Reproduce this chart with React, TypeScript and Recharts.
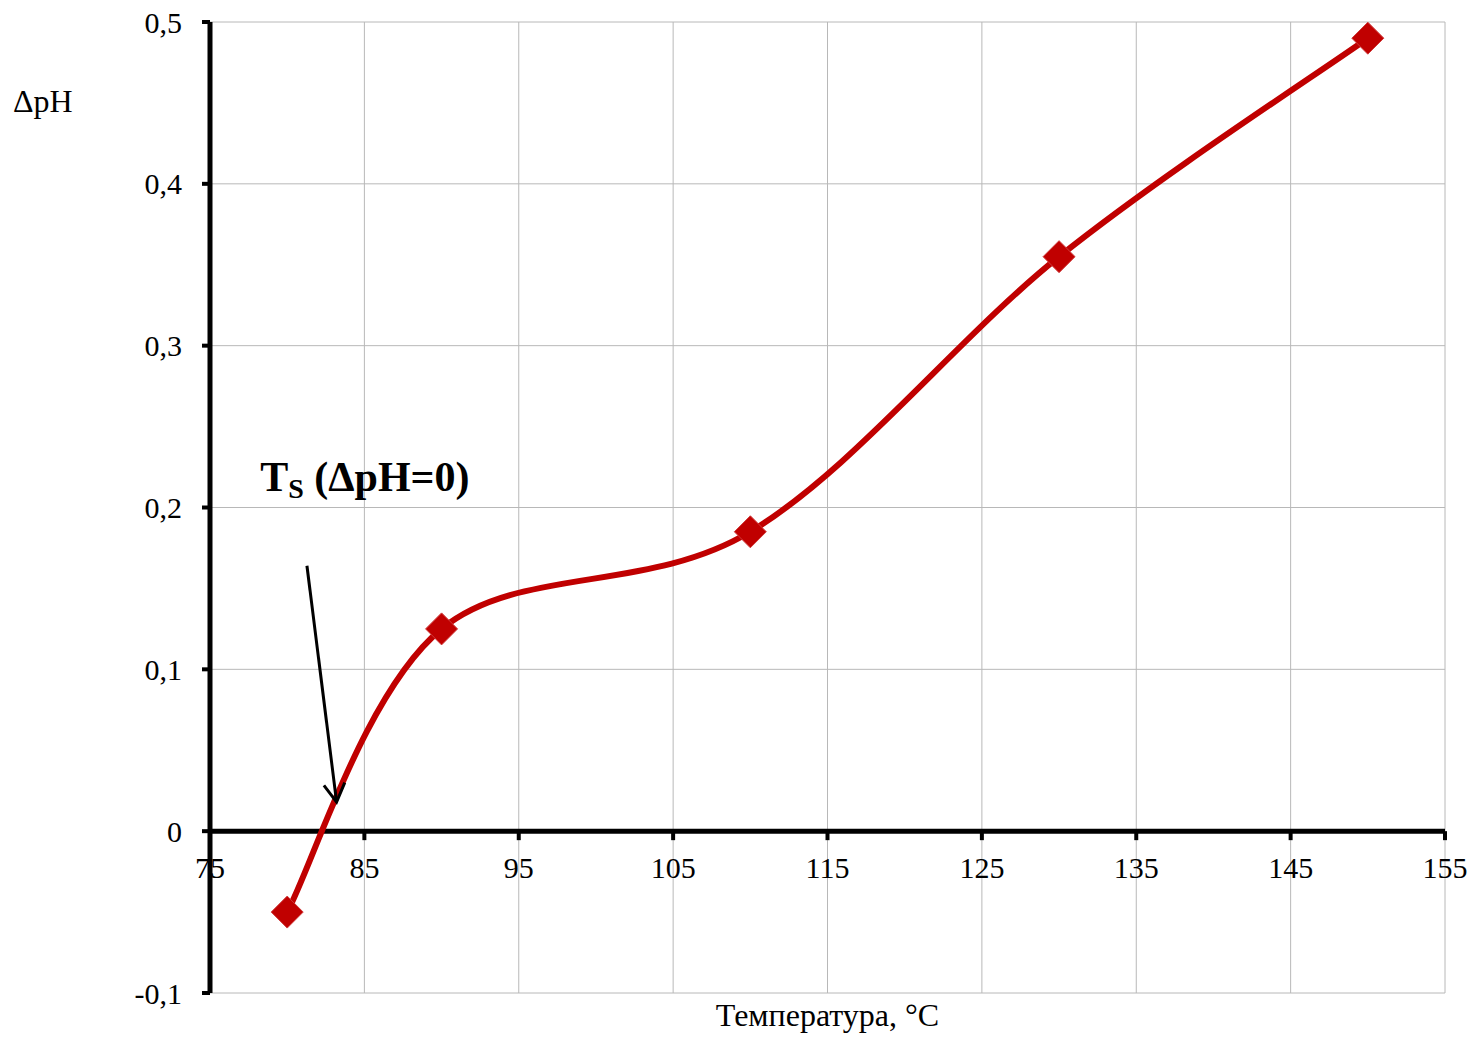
import {
  CartesianGrid,
  Line,
  LineChart,
  ReferenceDot,
  ReferenceLine,
  XAxis,
  YAxis,
} from "recharts";

// temperature, °C
const temperature = [80, 90, 110, 130, 150];
// ΔpH
const deltaPH = [-0.05, 0.125, 0.185, 0.355, 0.49];

const xTicks = [75, 85, 95, 105, 115, 125, 135, 145, 155];
const yTicks = [-0.1, 0, 0.1, 0.2, 0.3, 0.4, 0.5];

// annotation "Ts (ΔpH=0)" and arrow pointing at the zero crossing
const tsLabelAt = { x: 78.25, y: 0.21 };
const arrowFrom = { x: 81.28, y: 0.164 };
const arrowTo = { x: 83.2, y: 0.018 };

const W = 1473;
const H = 1037;
const TOP = 22;
const X_AXIS_H = 44;
const PLOT_H = H - TOP - X_AXIS_H;
// x axis labels sit on the y=0 line, not at the bottom of the plot
const ZERO_LIFT = (PLOT_H * (0 - yTicks[0])) / (yTicks[yTicks.length - 1] - yTicks[0]);

const FONT = "'Liberation Serif', 'Times New Roman', serif";
const RED = "#C00000";

const data = temperature.map((t, i) => ({ t, v: deltaPH[i] }));

const fmt = (v: number) => (v === 0 ? "0" : v.toFixed(1).replace(".", ","));

// Excel-like smoothed line (Catmull-Rom as cubic Bézier)
function smoothCurve(context: any) {
  let pts: [number, number][] = [];
  return {
    areaStart() {},
    areaEnd() {},
    lineStart() {
      pts = [];
    },
    point(x: number, y: number) {
      pts.push([+x, +y]);
    },
    lineEnd() {
      if (!pts.length) return;
      context.moveTo(pts[0][0], pts[0][1]);
      for (let i = 0; i < pts.length - 1; i++) {
        const p0 = pts[Math.max(i - 1, 0)];
        const p1 = pts[i];
        const p2 = pts[i + 1];
        const p3 = pts[Math.min(i + 2, pts.length - 1)];
        context.bezierCurveTo(
          p1[0] + (p2[0] - p0[0]) / 6,
          p1[1] + (p2[1] - p0[1]) / 6,
          p2[0] - (p3[0] - p1[0]) / 6,
          p2[1] - (p3[1] - p1[1]) / 6,
          p2[0],
          p2[1]
        );
      }
    },
  };
}

const Diamond = (props: any) => {
  const { cx, cy, index } = props;
  if (cx == null || cy == null) return <g key={`d-${index}`} />;
  const r = 16;
  return (
    <polygon
      key={`d-${index}`}
      points={`${cx},${cy - r} ${cx + r},${cy} ${cx},${cy + r} ${cx - r},${cy}`}
      fill={RED}
      stroke="#d03a3a"
      strokeWidth={1}
    />
  );
};

const XTick = (props: any) => {
  const { x, y, payload } = props;
  const y0 = y - ZERO_LIFT;
  return (
    <g>
      <line x1={x} x2={x} y1={y0} y2={y0 + 9} stroke="#000" strokeWidth={4} />
      <text x={x} y={y0 + 47} textAnchor="middle" fill="#000" fontSize={30} fontFamily={FONT}>
        {payload.value}
      </text>
    </g>
  );
};

const Arrow = (props: any) => {
  const { x1, y1, x2, y2 } = props;
  const ang = Math.atan2(y2 - y1, x2 - x1);
  const len = 21;
  const spread = Math.PI / 6;
  const w1x = x2 - len * Math.cos(ang - spread);
  const w1y = y2 - len * Math.sin(ang - spread);
  const w2x = x2 - len * Math.cos(ang + spread);
  const w2y = y2 - len * Math.sin(ang + spread);
  return (
    <g>
      <line x1={x1} y1={y1} x2={x2} y2={y2} stroke="#000" strokeWidth={3} />
      <polyline
        points={`${w1x},${w1y} ${x2},${y2} ${w2x},${w2y}`}
        fill="none"
        stroke="#000"
        strokeWidth={3}
      />
    </g>
  );
};

const TsLabel = (props: any) => {
  const { cx, cy } = props;
  return (
    <text x={cx} y={cy} fontFamily={FONT} fontWeight="bold" fontSize={42} fill="#000">
      T
      <tspan fontSize={28} dy={7}>
        S
      </tspan>
      <tspan dy={-7}> (ΔpH=0)</tspan>
    </text>
  );
};

export default function App() {
  return (
    <div style={{ position: "absolute", left: 0, top: 0, width: W, height: H, background: "#fff" }}>
      <LineChart width={W} height={H} data={data} margin={{ top: TOP, right: 28, bottom: 0, left: 0 }}>
        <CartesianGrid stroke="#b8b8b8" strokeWidth={1} />
        <XAxis
          dataKey="t"
          type="number"
          domain={[75, 155]}
          ticks={xTicks}
          interval={0}
          height={X_AXIS_H}
          axisLine={false}
          tickLine={false}
          tickSize={0}
          tickMargin={0}
          tick={<XTick />}
          label={{
            value: "Температура, °C",
            position: "insideBottom",
            offset: 11,
            fill: "#000",
            fontSize: 32,
            fontFamily: FONT,
          }}
        />
        <YAxis
          type="number"
          domain={[-0.1, 0.5]}
          ticks={yTicks}
          interval={0}
          width={210}
          axisLine={{ stroke: "#000", strokeWidth: 5 }}
          tickLine={{ stroke: "#000", strokeWidth: 4 }}
          tickSize={8}
          tickMargin={20}
          tickFormatter={fmt}
          tick={{ fill: "#000", fontSize: 30, fontFamily: FONT }}
          label={{
            content: () => (
              <text x={13} y={112} fill="#000" fontSize={32} fontFamily={FONT}>
                ΔpH
              </text>
            ),
          }}
        />
        <ReferenceLine y={0} stroke="#000" strokeWidth={5} />
        <Line
          dataKey="v"
          type={smoothCurve as any}
          stroke={RED}
          strokeWidth={6}
          dot={Diamond}
          activeDot={false}
          isAnimationActive={false}
        />
        <ReferenceLine
          segment={[arrowFrom, arrowTo]}
          ifOverflow="visible"
          shape={<Arrow />}
          {...({ zIndex: 2000 } as any)}
        />
        <ReferenceDot
          x={tsLabelAt.x}
          y={tsLabelAt.y}
          r={0}
          ifOverflow="visible"
          shape={<TsLabel />}
          {...({ zIndex: 2000 } as any)}
        />
      </LineChart>
    </div>
  );
}
